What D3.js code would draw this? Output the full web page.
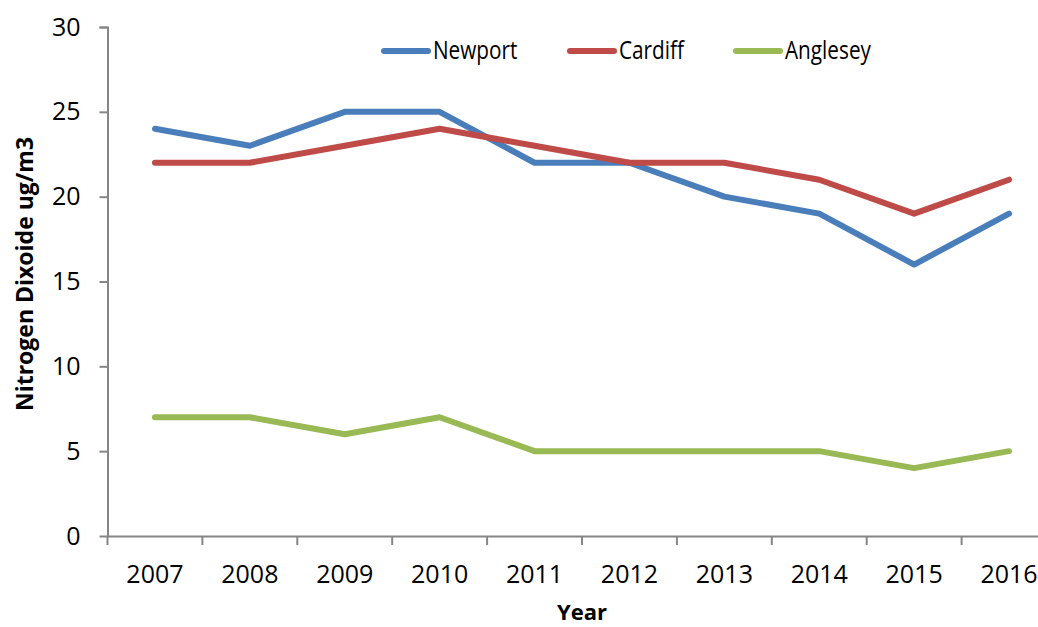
<!DOCTYPE html>
<html>
<head>
<meta charset="utf-8">
<script src="https://cdn.jsdelivr.net/npm/d3@7"></script>
<style>
  body { margin: 0; background: #fff; }
  svg { display: block; }
  .tick text { font-family: "Open Sans", sans-serif; font-size: 25px; fill: #000; }
  .labels { font-family: "Open Sans", sans-serif; font-size: 25px; fill: #000; }
  .title { font-family: "Open Sans", sans-serif; font-size: 23px; font-weight: bold; fill: #000; }
</style>
</head>
<body>
<script>
// Chart values
var years = ["2007", "2008", "2009", "2010", "2011", "2012", "2013", "2014", "2015", "2016"];
var newport = [24, 23, 25, 25, 22, 22, 20, 19, 16, 19];
var cardiff = [22, 22, 23, 24, 23, 22, 22, 21, 19, 21];
var anglesey = [7, 7, 6, 7, 5, 5, 5, 5, 4, 5];
var yTicks = [0, 5, 10, 15, 20, 25, 30];
var seriesNames = ["Newport", "Cardiff", "Anglesey"];

var width = 1038;
var height = 627;
var svg = d3.select("body").append("svg")
  .attr("width", width)
  .attr("height", height);

var color = d3.scaleOrdinal()
  .domain(seriesNames)
  .range(["#4a7ebb", "#be4b48", "#98b954"]);

// Scales, the category axis runs past the right edge like the original
var xScale = d3.scaleBand()
  .domain(years)
  .range([107.5, 1056.5]);

var yScale = d3.scaleLinear()
  .domain([0, 30])
  .range([536, 27]);

// y axis
var yAxis = d3.axisLeft(yScale).tickValues(yTicks).tickSize(8).tickPadding(19);
var gy = svg.append("g")
  .attr("transform", "translate(107.5,0)")
  .call(yAxis);

// x axis, ticks between categories
var gx = svg.append("g")
  .attr("transform", "translate(0,536)")
  .call(d3.axisBottom(xScale).tickSize(0).tickPadding(29));

var bounds = d3.range(years.length + 1).map(function(i) {
  return xScale.range()[0] + i * xScale.step();
});
gx.selectAll(".sep")
  .data(bounds)
  .enter()
  .append("line")
  .attr("class", "sep")
  .attr("x1", function(d) { return d; })
  .attr("x2", function(d) { return d; })
  .attr("y1", 0)
  .attr("y2", 9);

svg.selectAll(".domain, .tick line, .sep")
  .attr("stroke", "#868686")
  .attr("stroke-width", 2);
gy.select(".domain").attr("d", "M-8,27.5H0.5V536");

// Lines
var data = [
  { name: "Newport", values: newport },
  { name: "Cardiff", values: cardiff },
  { name: "Anglesey", values: anglesey }
];

var line = d3.line()
  .x(function(d, i) { return xScale(years[i]) + xScale.bandwidth() / 2; })
  .y(function(d) { return yScale(d); });

svg.selectAll(".series")
  .data(data)
  .enter()
  .append("path")
  .attr("class", "series")
  .attr("d", function(d) { return line(d.values); })
  .attr("fill", "none")
  .attr("stroke", function(d) { return color(d.name); })
  .attr("stroke-width", 6)
  .attr("stroke-linejoin", "round")
  .attr("stroke-linecap", "round");

// Legend
var legendX = [384, 570, 736];
var legend = svg.selectAll(".legend")
  .data(seriesNames)
  .enter()
  .append("g")
  .attr("class", "legend")
  .attr("transform", function(d, i) {
    return "translate(" + legendX[i] + ",51)";
  });

legend.append("line")
  .attr("x1", 0)
  .attr("x2", 44)
  .attr("stroke", color)
  .attr("stroke-width", 6)
  .attr("stroke-linecap", "round");

// narrower text, the original font is condensed
legend.append("text")
  .attr("class", "labels")
  .attr("transform", "translate(49,8) scale(0.83,1)")
  .text(function(d) { return d; });

// Axis titles
svg.append("text")
  .attr("class", "title")
  .attr("text-anchor", "middle")
  .attr("font-size", "22px")
  .attr("transform", "translate(582,620)")
  .style("font-size", "22px")
  .text("Year");

svg.append("text")
  .attr("class", "title")
  .attr("text-anchor", "middle")
  .attr("transform", "translate(33,274) rotate(-90)")
  .text("Nitrogen Dixoide ug/m3");
</script>
</body>
</html>
